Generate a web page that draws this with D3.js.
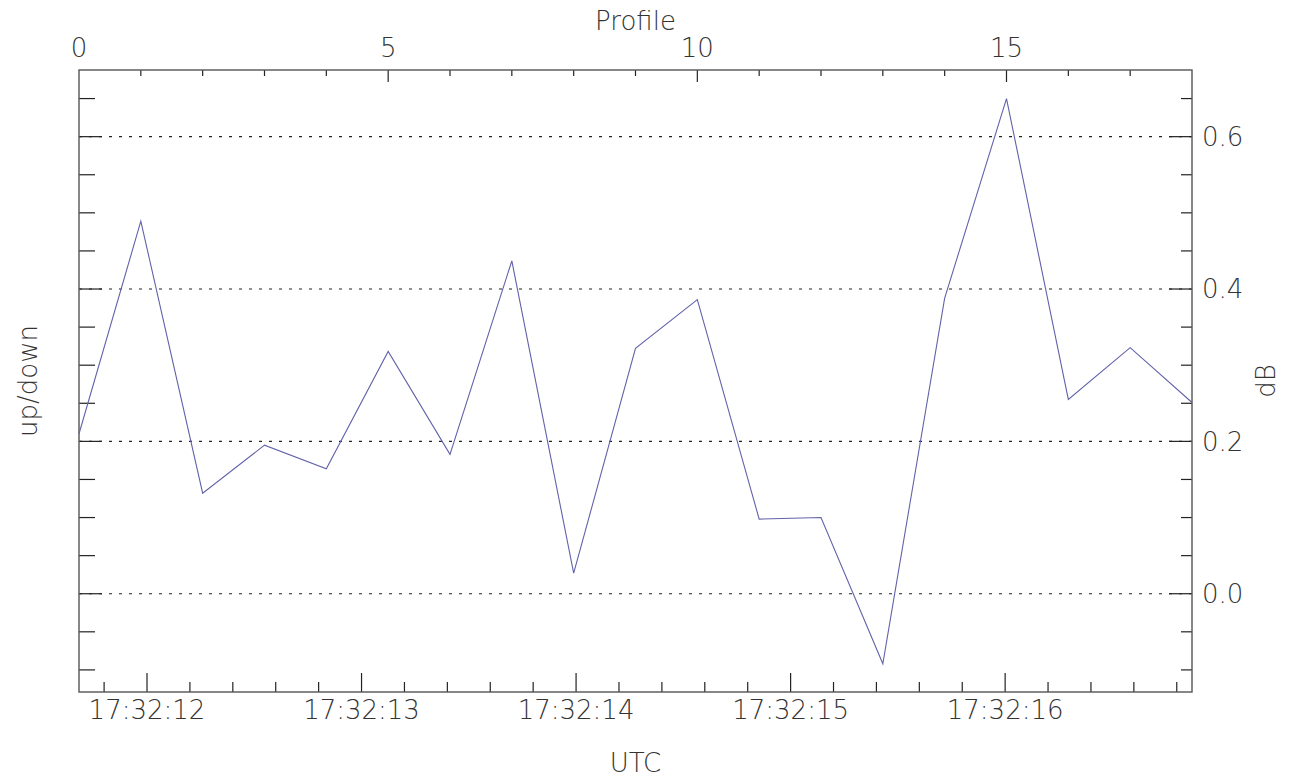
<!DOCTYPE html>
<html lang="en">
<head>
    <meta charset="UTF-8">
    <title>up/down vs profile</title>
    <style>
        body {
            margin: 0;
            background-color: #fff;
        }

        #chart text {
            font-family: "DejaVu Sans", sans-serif;
            font-size: 26px;
            font-weight: 200;
            fill: #333;
        }

        .frame {
            fill: none;
            stroke: #555;
            stroke-width: 1.4;
        }

        .tick-line {
            stroke: #222;
            stroke-width: 1.2;
        }

        .grid {
            stroke: #222;
            stroke-width: 1.2;
            stroke-dasharray: 3, 7;
        }
    </style>
</head>
<body>
    <svg id="chart" width="1293" height="781"></svg>

    <script src="https://cdnjs.cloudflare.com/ajax/libs/d3/7.8.5/d3.min.js"></script>
    <script>
        // values, one per profile
        const profiles = d3.range(0, 19);
        const upDown = [0.210, 0.489, 0.132, 0.195, 0.164, 0.318, 0.183, 0.437, 0.027, 0.322,
                        0.386, 0.098, 0.100, -0.092, 0.388, 0.650, 0.255, 0.323, 0.251];

        const profileTicks = [0, 5, 10, 15];
        const dbTicks = [0.0, 0.2, 0.4, 0.6];

        // UTC span covered by the profile axis
        const timeStart = '2000-01-01T17:32:11.683Z';
        const timeEnd = '2000-01-01T17:32:16.871Z';

        const plotLeft = 79, plotRight = 1192, plotTop = 70, plotBottom = 692;

        let svg = d3.select('#chart');

        let x = d3.scaleLinear()
            .domain([0, 18])
            .range([plotLeft, plotRight]);

        let y = d3.scaleLinear()
            .domain([-0.129, 0.6875])
            .range([plotBottom, plotTop]);

        let t = d3.scaleUtc()
            .domain([new Date(timeStart), new Date(timeEnd)])
            .range([plotLeft, plotRight]);

        // dotted grid
        svg.append('g')
            .selectAll('line')
            .data(dbTicks)
            .join('line')
            .attr('class', 'grid')
            .attr('x1', plotLeft)
            .attr('x2', plotRight)
            .attr('y1', d => y(d))
            .attr('y2', d => y(d));

        // ticks: minor every 0.05 on y, every profile on top, every 200ms on bottom
        let yMinor = d3.range(-0.1, 0.66, 0.05).map(d => +d.toFixed(2));
        let isMajorY = d => dbTicks.some(v => Math.abs(v - d) < 1e-6);

        let ticks = svg.append('g');

        ticks.selectAll('line.yl')
            .data(yMinor)
            .join('line')
            .attr('class', 'tick-line yl')
            .attr('x1', plotLeft)
            .attr('x2', d => plotLeft + (isMajorY(d) ? 23 : 16))
            .attr('y1', d => y(d))
            .attr('y2', d => y(d));

        ticks.selectAll('line.yr')
            .data(yMinor)
            .join('line')
            .attr('class', 'tick-line yr')
            .attr('x1', plotRight)
            .attr('x2', d => plotRight - (isMajorY(d) ? 23 : 11))
            .attr('y1', d => y(d))
            .attr('y2', d => y(d));

        ticks.selectAll('line.xt')
            .data(d3.range(1, 18))
            .join('line')
            .attr('class', 'tick-line xt')
            .attr('x1', d => x(d))
            .attr('x2', d => x(d))
            .attr('y1', plotTop)
            .attr('y2', d => plotTop + (d % 5 === 0 ? 12 : 6));

        let timeTicks = t.ticks(d3.utcMillisecond.every(200));
        ticks.selectAll('line.xb')
            .data(timeTicks)
            .join('line')
            .attr('class', 'tick-line xb')
            .attr('x1', d => t(d))
            .attr('x2', d => t(d))
            .attr('y1', plotBottom)
            .attr('y2', d => plotBottom - (d.getUTCMilliseconds() === 0 ? 19 : 10));

        // frame
        svg.append('rect')
            .attr('class', 'frame')
            .attr('x', plotLeft)
            .attr('y', plotTop)
            .attr('width', plotRight - plotLeft)
            .attr('height', plotBottom - plotTop);

        // data line
        svg.append('path')
            .datum(profiles)
            .attr('fill', 'none')
            .attr('stroke', '#6262aa')
            .attr('stroke-width', 1.1)
            .attr('d', d3.line()
                .x(d => x(d))
                .y(d => y(upDown[d])));

        // labels
        svg.append('g')
            .selectAll('text')
            .data(profileTicks)
            .join('text')
            .attr('x', d => x(d))
            .attr('y', 57)
            .attr('text-anchor', 'middle')
            .text(d => d);

        let fmtTime = d3.utcFormat('%H:%M:%S');
        svg.append('g')
            .selectAll('text')
            .data(timeTicks.filter(d => d.getUTCMilliseconds() === 0))
            .join('text')
            .attr('x', d => t(d))
            .attr('y', 719)
            .attr('text-anchor', 'middle')
            .text(d => fmtTime(d));

        svg.append('g')
            .selectAll('text')
            .data(dbTicks)
            .join('text')
            .attr('x', plotRight + 10)
            .attr('y', d => y(d))
            .attr('dy', '0.36em')
            .text(d => d.toFixed(1));

        svg.append('text')
            .attr('x', (plotLeft + plotRight) / 2)
            .attr('y', 30)
            .attr('text-anchor', 'middle')
            .text('Profile');

        svg.append('text')
            .attr('x', (plotLeft + plotRight) / 2)
            .attr('y', 772)
            .attr('text-anchor', 'middle')
            .text('UTC');

        svg.append('text')
            .attr('transform', `translate(1275, ${(plotTop + plotBottom) / 2}) rotate(-90)`)
            .attr('text-anchor', 'middle')
            .text('dB');

        svg.append('text')
            .attr('transform', `translate(37, ${(plotTop + plotBottom) / 2}) rotate(-90)`)
            .attr('text-anchor', 'middle')
            .text('up/down');
    </script>
</body>
</html>
